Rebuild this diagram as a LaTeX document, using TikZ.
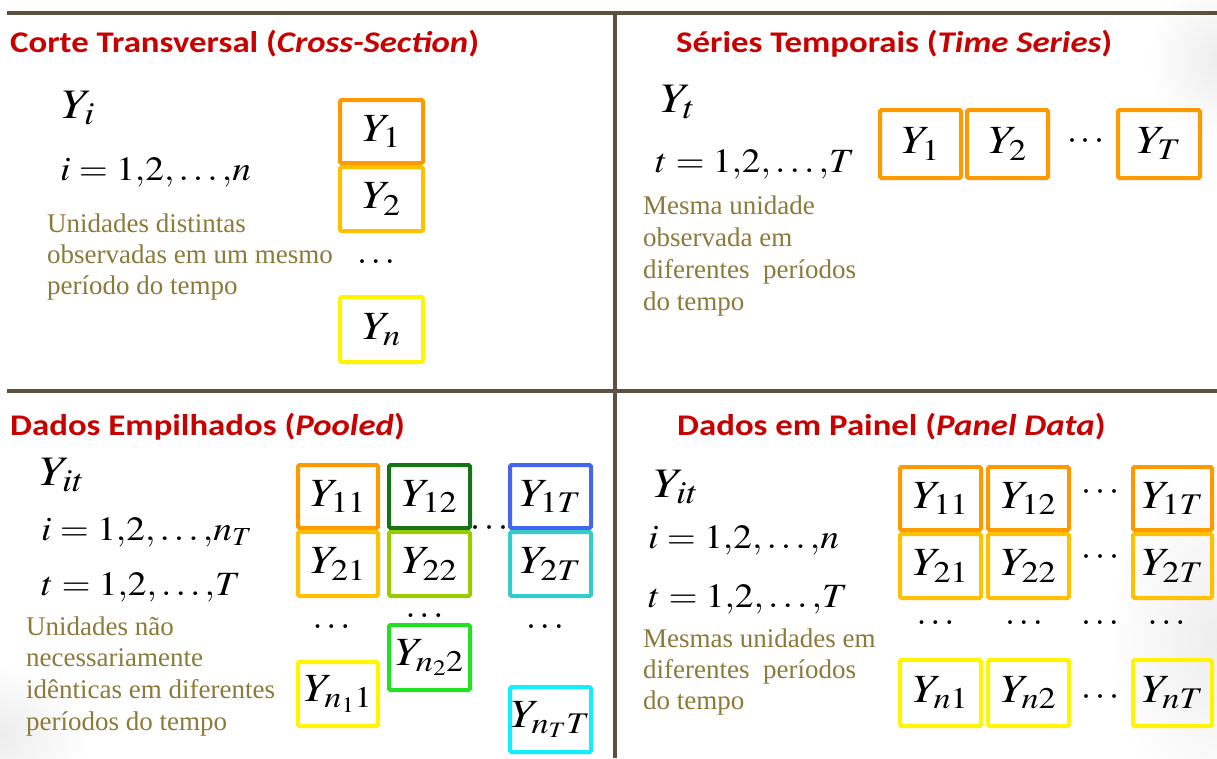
\documentclass[tikz,border=0pt]{standalone}
\usepackage{mathptmx}
\usepackage{graphicx}
\usepackage{fontspec}
\setmainfont{Liberation Serif}
\newfontfamily\notefont{Liberation Serif}
\newfontfamily\titlefont[FakeStretch=1.16]{Carlito}
\DeclareMathSizes{42}{42}{32}{24}
\DeclareMathSizes{34}{34}{26}{20}
\DeclareMathSizes{40}{40}{30}{22}
\DeclareMathSizes{36}{36}{26}{20}
\newcommand{\hstr}[1]{\scalebox{1.14}[1]{#1}}
\newcommand{\hsr}[1]{\scalebox{1.1}[1]{#1}}
\definecolor{titlered}{HTML}{C80000}
\definecolor{olivetxt}{HTML}{8C7A3A}
\definecolor{divider}{HTML}{5B5141}
\definecolor{corange}{HTML}{FF9900}
\definecolor{cgold}{HTML}{FFC000}
\definecolor{cyellow}{HTML}{FFF500}
\definecolor{cdkgreen}{HTML}{177317}
\definecolor{cygreen}{HTML}{99CC00}
\definecolor{cgreen}{HTML}{22E022}
\definecolor{cblue}{HTML}{4466EE}
\definecolor{cteal}{HTML}{33CCCC}
\definecolor{ccyan}{HTML}{11EEFF}
\begin{document}
\begin{tikzpicture}[x=1pt,y=-1pt,
  title/.style={anchor=base west, inner sep=0pt, text=titlered, font=\titlefont\bfseries\fontsize{30}{34}\selectfont},
  ylbl/.style={anchor=base west, inner sep=0pt, font=\fontsize{42}{46}\selectfont},
  rng/.style={anchor=base west, inner sep=0pt, font=\fontsize{34}{38}\selectfont},
  note/.style={anchor=base west, inner sep=0pt, text=olivetxt, font=\notefont\fontsize{27}{31}\selectfont},
  cell/.style={draw, line width=4pt, rounded corners=1.5pt, inner sep=0pt, font=\fontsize{40}{44}\selectfont},
  dotsn/.style={inner sep=0pt, font=\fontsize{36}{40}\selectfont},
  divline/.style={draw=divider, line width=4.5pt},
  haze/.style={inner color=black!7, outer color=white}]
\useasboundingbox (0,0) rectangle (1217,758);
\fill[white] (0,0) rectangle (1217,758);
% faint background haze
\shade[haze] (1217,60) ellipse [x radius=70, y radius=80];
\shade[haze] (1217,640) ellipse [x radius=110, y radius=170];
\shade[haze] (0,735) ellipse [x radius=90, y radius=70];
% dividers
\coordinate (tl) at (7,13);
\coordinate (tr) at (1217,13);
\coordinate (ml) at (7,391);
\coordinate (mr) at (1217,391);
\coordinate (vt) at (615,13);
\coordinate (vb) at (615,758);
\draw[divline] (tl) -- (tr);
\draw[divline] (ml) -- (mr);
\draw[divline] (vt) -- (vb);

% ---------- top left ----------
\node[title] (t1) at (10,52) {Corte Transversal (\textit{Cross-Section})};
\node[ylbl] (yi) at (62,118) {\hstr{$Y_i$}};
\node[rng] (irng) at (60,180) {\hsr{$i=1{,}2{,}\ldots{,}n$}};
\node[note] (n1a) at (47,232) {Unidades distintas};
\node[note] (n1b) at (47,263) {observadas em um mesmo};
\node[note] (n1c) at (47,294) {período do tempo};
\node[cell, draw=corange, minimum width=83pt, minimum height=63pt] (a1) at (381.5,131.5) {\hstr{$Y_1$}};
\node[cell, draw=cgold, minimum width=83pt, minimum height=64pt] (a2) at (381.5,199) {\hstr{$Y_2$}};
\node[dotsn] (ad) at (376,262) {$\ldots$};
\node[cell, draw=cyellow, minimum width=83pt, minimum height=65pt] (an) at (381.5,329.5) {\hstr{$Y_n$}};

% ---------- top right ----------
\node[title] (t2) at (676,52) {Séries Temporais (\textit{Time Series})};
\node[ylbl] (yt) at (661,112) {\hstr{$Y_t$}};
\node[rng] (trng) at (655,172) {\hsr{$t=1{,}2{,}\ldots{,}T$}};
\node[note] (n2a) at (643,214) {Mesma unidade};
\node[note] (n2b) at (643,246) {observada em};
\node[note] (n2c) at (643,278) {diferentes\ \ períodos};
\node[note] (n2d) at (643,310) {do tempo};
\node[cell, draw=corange, minimum width=81pt, minimum height=68pt] (b1) at (920.5,144) {\hstr{$Y_1$}};
\node[cell, draw=corange, minimum width=81pt, minimum height=68pt] (b2) at (1007.5,144) {\hstr{$Y_2$}};
\node[dotsn] (bd) at (1086,142) {$\cdots$};
\node[cell, draw=corange, minimum width=82pt, minimum height=68pt] (bT) at (1159,144) {\hstr{$Y_T$}};

% ---------- bottom left ----------
\node[title] (t3) at (10,435) {Dados Empilhados (\textit{Pooled})};
\node[ylbl] (yit1) at (40,485) {\hstr{$Y_{it}$}};
\node[rng] (irng3) at (41,540) {\hsr{$i=1{,}2{,}\ldots{,}n_T$}};
\node[rng] (trng3) at (41,595) {\hsr{$t=1{,}2{,}\ldots{,}T$}};
\node[note] (n3a) at (26,635) {Unidades não};
\node[note] (n3b) at (26,666) {necessariamente};
\node[note] (n3c) at (26,698) {idênticas em diferentes};
\node[note] (n3d) at (26,730) {períodos do tempo};
\node[cell, draw=corange, minimum width=80pt, minimum height=63pt] (c11) at (338,496.5) {\hstr{$Y_{11}$}};
\node[cell, draw=cgold, minimum width=80pt, minimum height=64pt] (c21) at (338,564) {\hstr{$Y_{21}$}};
\node[cell, draw=cdkgreen, minimum width=81pt, minimum height=63pt] (c12) at (429.5,496.5) {\hstr{$Y_{12}$}};
\node[cell, draw=cygreen, minimum width=81pt, minimum height=64pt] (c22) at (429.5,564) {\hstr{$Y_{22}$}};
\node[cell, draw=cblue, minimum width=81pt, minimum height=63pt] (c1T) at (550.5,496.5) {\hstr{$Y_{1T}$}};
\node[cell, draw=cteal, minimum width=81pt, minimum height=64pt] (c2T) at (550.5,564) {\hstr{$Y_{2T}$}};
\node[dotsn] (cd1) at (489.5,529) {$\cdots$};
\node[dotsn] (cd2) at (331.5,627) {$\ldots$};
\node[dotsn] (cd3) at (424.5,616) {$\ldots$};
\node[dotsn] (cd4) at (545,627) {$\ldots$};
\node[cell, draw=cyellow, minimum width=80pt, minimum height=64pt] (cn1) at (338,694) {\hstr{$Y_{n_1 1}$}};
\node[cell, draw=cgreen, minimum width=81pt, minimum height=65pt] (cn2) at (429.5,657.5) {\hstr{$Y_{n_2 2}$}};
\node[cell, draw=ccyan, minimum width=81pt, minimum height=65pt] (cnT) at (550.5,719.5) {\hstr{$Y_{n_T T}$}};

% ---------- bottom right ----------
\node[title] (t4) at (677,435) {Dados em Painel (\textit{Panel Data})};
\node[ylbl] (yit4) at (654,497) {\hstr{$Y_{it}$}};
\node[rng] (irng4) at (648,548) {\hsr{$i=1{,}2{,}\ldots{,}n$}};
\node[rng] (trng4) at (648,607) {\hsr{$t=1{,}2{,}\ldots{,}T$}};
\node[note] (n4a) at (643,647) {Mesmas unidades em};
\node[note] (n4b) at (643,678) {diferentes\ \ períodos};
\node[note] (n4c) at (643,709) {do tempo};
\node[cell, draw=corange, minimum width=81pt, minimum height=63pt] (d11) at (940.5,498.5) {\hstr{$Y_{11}$}};
\node[cell, draw=corange, minimum width=81pt, minimum height=63pt] (d12) at (1028.5,498.5) {\hstr{$Y_{12}$}};
\node[cell, draw=corange, minimum width=79pt, minimum height=63pt] (d1T) at (1172.5,498.5) {\hstr{$Y_{1T}$}};
\node[cell, draw=cgold, minimum width=81pt, minimum height=64pt] (d21) at (940.5,566) {\hstr{$Y_{21}$}};
\node[cell, draw=cgold, minimum width=81pt, minimum height=64pt] (d22) at (1028.5,566) {\hstr{$Y_{22}$}};
\node[cell, draw=cgold, minimum width=79pt, minimum height=64pt] (d2T) at (1172.5,566) {\hstr{$Y_{2T}$}};
\node[cell, draw=cyellow, minimum width=81pt, minimum height=66pt] (dn1) at (940.5,693) {\hstr{$Y_{n1}$}};
\node[cell, draw=cyellow, minimum width=81pt, minimum height=66pt] (dn2) at (1028.5,693) {\hstr{$Y_{n2}$}};
\node[cell, draw=cyellow, minimum width=79pt, minimum height=66pt] (dnT) at (1172.5,693) {\hstr{$Y_{nT}$}};
\node[dotsn] (dd1) at (1100.5,493) {$\cdots$};
\node[dotsn] (dd2) at (1100.5,558) {$\cdots$};
\node[dotsn] (dd3) at (1100.5,698) {$\cdots$};
\node[dotsn] (dm1) at (935.5,623) {$\ldots$};
\node[dotsn] (dm2) at (1024,623) {$\ldots$};
\node[dotsn] (dm3) at (1100,623) {$\ldots$};
\node[dotsn] (dm4) at (1166.5,623) {$\ldots$};
\end{tikzpicture}
\end{document}
